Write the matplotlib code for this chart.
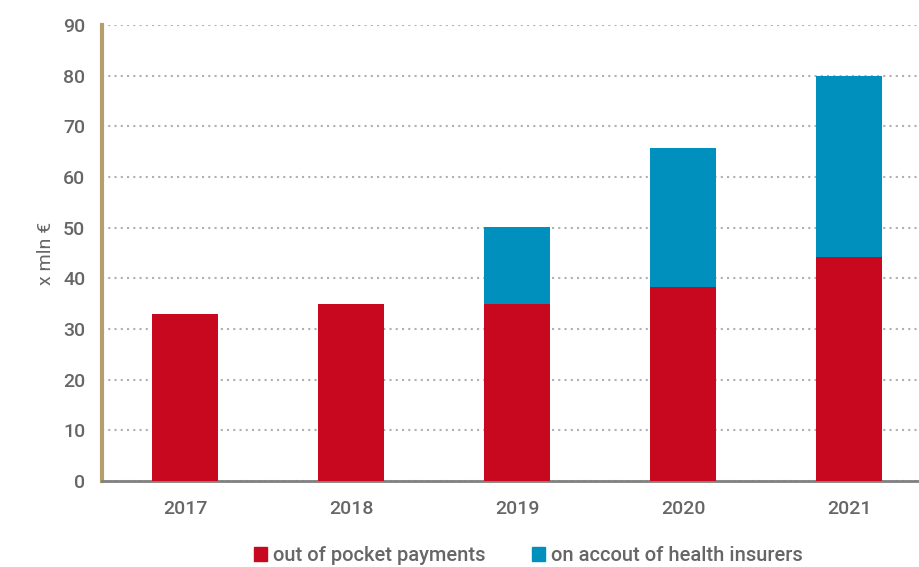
import matplotlib
matplotlib.use("Agg")
import matplotlib.pyplot as plt
from matplotlib.patches import Patch

years = ["2017", "2018", "2019", "2020", "2021"]
out_of_pocket = [33, 35, 35, 38.3, 44.3]
health_insurers = [0, 0, 15.2, 27.4, 35.6]

RED = "#C8081E"
BLUE = "#0090BE"
GREY = "#666666"

plt.rcParams["font.family"] = ["Roboto", "DejaVu Sans"]
plt.rcParams["font.weight"] = "medium"

fig = plt.figure(figsize=(9.19, 5.67), dpi=100)
ax = fig.add_axes([102 / 919, 86 / 567, 1 - 102 / 919, 456 / 567])

x = range(len(years))
ax.bar(x, out_of_pocket, width=0.4, color=RED, zorder=3)
ax.bar(x, health_insurers, width=0.4, bottom=out_of_pocket, color=BLUE, zorder=3)

ax.set_ylim(0, 90)
ax.set_xlim(-0.5, 4.42)
ax.set_yticks(range(0, 91, 10))
ax.set_xticks(list(x))
ax.set_xticklabels(years)
ax.tick_params(axis="both", length=0, labelsize=14, colors=GREY)
ax.tick_params(axis="y", pad=12)
ax.tick_params(axis="x", pad=14)

ax.yaxis.grid(True, linestyle=(0, (1, 2)), color="#b0b0b0", linewidth=1.5, zorder=0)
ax.set_axisbelow(True)

for side in ["top", "right"]:
    ax.spines[side].set_visible(False)
ax.spines["left"].set_color("#B39E6C")
ax.spines["left"].set_linewidth(3)
ax.spines["bottom"].set_color("#808080")
ax.spines["bottom"].set_linewidth(2)

ax.set_ylabel("x mln €", fontsize=14, color=GREY, labelpad=6)

handles = [Patch(color=RED, label="out of pocket payments"),
           Patch(color=BLUE, label="on accout of health insurers")]
fig.legend(handles=handles, loc="center", bbox_to_anchor=(0.575, 0.02), ncol=2,
           frameon=False, fontsize=14.5, labelcolor=GREY, handlelength=0.65,
           handleheight=0.65, handletextpad=0.3, columnspacing=2.3)

fig.savefig("out.png", dpi=100)
